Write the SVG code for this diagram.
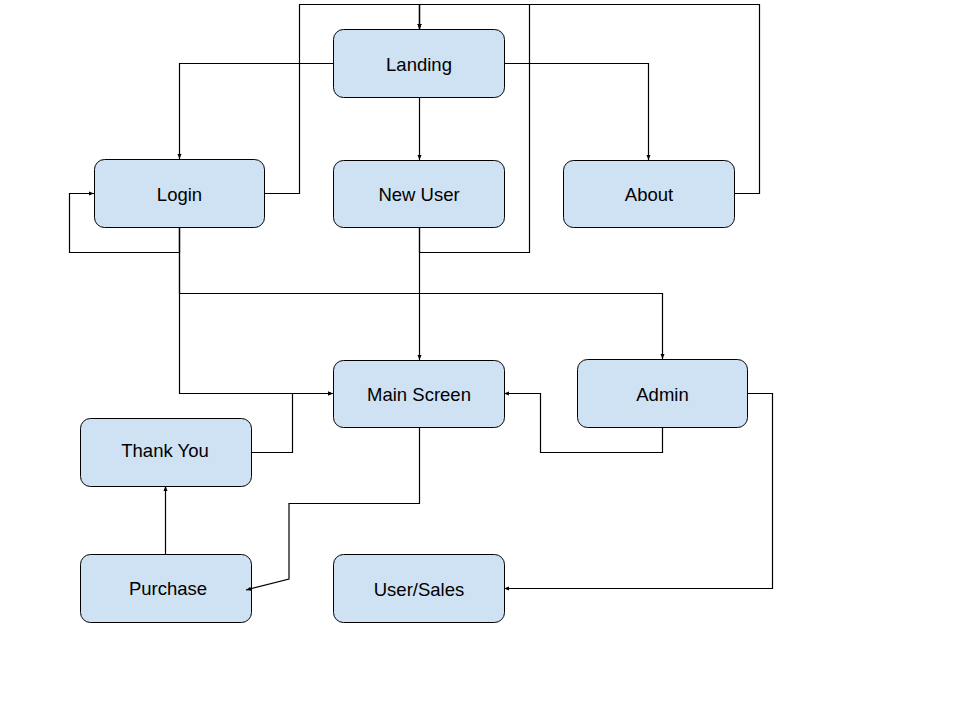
<svg xmlns="http://www.w3.org/2000/svg" width="960" height="720" viewBox="0 0 960 720">
<defs>
<marker id="ah" viewBox="0 0 10 10" refX="10" refY="5" markerWidth="5" markerHeight="5" markerUnits="userSpaceOnUse" orient="auto">
<path d="M0,1 L10,5 L0,9 Z" fill="#000"/>
</marker>
<style>
.n rect{fill:#cfe2f3;stroke:#000;stroke-width:1}
.n text{font-family:"Liberation Sans",Arial,sans-serif;font-size:18.5px;fill:#000;text-anchor:middle;dominant-baseline:central}
.c path{fill:none;stroke:#000;stroke-width:1.2}
.c path.a{marker-end:url(#ah)}
</style>
</defs>
<rect width="960" height="720" fill="#fff"/>
<g class="n" id="landing"><rect x="333.5" y="29.5" width="171" height="68" rx="10"/><text x="419" y="64">Landing</text></g>
<g class="n" id="login"><rect x="94.5" y="159.5" width="170" height="68" rx="10"/><text x="179.5" y="194">Login</text></g>
<g class="n" id="newuser"><rect x="333.5" y="160.5" width="171" height="67" rx="10"/><text x="419" y="194">New User</text></g>
<g class="n" id="about"><rect x="563.5" y="160.5" width="171" height="67" rx="10"/><text x="649" y="194">About</text></g>
<g class="n" id="mainscreen"><rect x="333.5" y="360.5" width="171" height="67" rx="10"/><text x="419" y="394">Main Screen</text></g>
<g class="n" id="admin"><rect x="577.5" y="359.5" width="170" height="68" rx="10"/><text x="662.5" y="394">Admin</text></g>
<g class="n" id="thankyou"><rect x="80.5" y="418.5" width="171" height="68" rx="10"/><text x="165" y="450">Thank You</text></g>
<g class="n" id="purchase"><rect x="80.5" y="554.5" width="171" height="68" rx="10"/><text x="168" y="588">Purchase</text></g>
<g class="n" id="usersales"><rect x="333.5" y="554.5" width="171" height="68" rx="10"/><text x="419" y="589">User/Sales</text></g>
<g class="c" id="connectors">
<path class="a" d="M333,63.5 H179.5 V159"/>
<path class="a" d="M419.5,97 V160"/>
<path class="a" d="M504,63.5 H648.5 V160"/>
<path class="a" d="M264,193.5 H299.5 V4.5 H419.5 V29"/>
<path class="a" d="M734,193.5 H759.5 V4.5 H419.5 V29"/>
<path class="a" d="M419.5,227 V252.5 H529.5 V4.5 H419.5 V29"/>
<path class="a" d="M179.5,227 V252.5 H69.5 V193.5 H94"/>
<path class="a" d="M179.5,227 V293.5 H662.5 V359"/>
<path class="a" d="M179.5,227 V393.5 H333"/>
<path class="a" d="M419.5,227 V360"/>
<path class="a" d="M251,452.5 H292.5 V393.5 H333"/>
<path class="a" d="M419.5,427 V503.5 H289 V579 L246,590"/>
<path class="a" d="M165.5,554 V486"/>
<path class="a" d="M662.5,427 V452.5 H540.5 V393.5 H504"/>
<path class="a" d="M747,393.5 H772.5 V588.5 H504"/>
</g>
</svg>
